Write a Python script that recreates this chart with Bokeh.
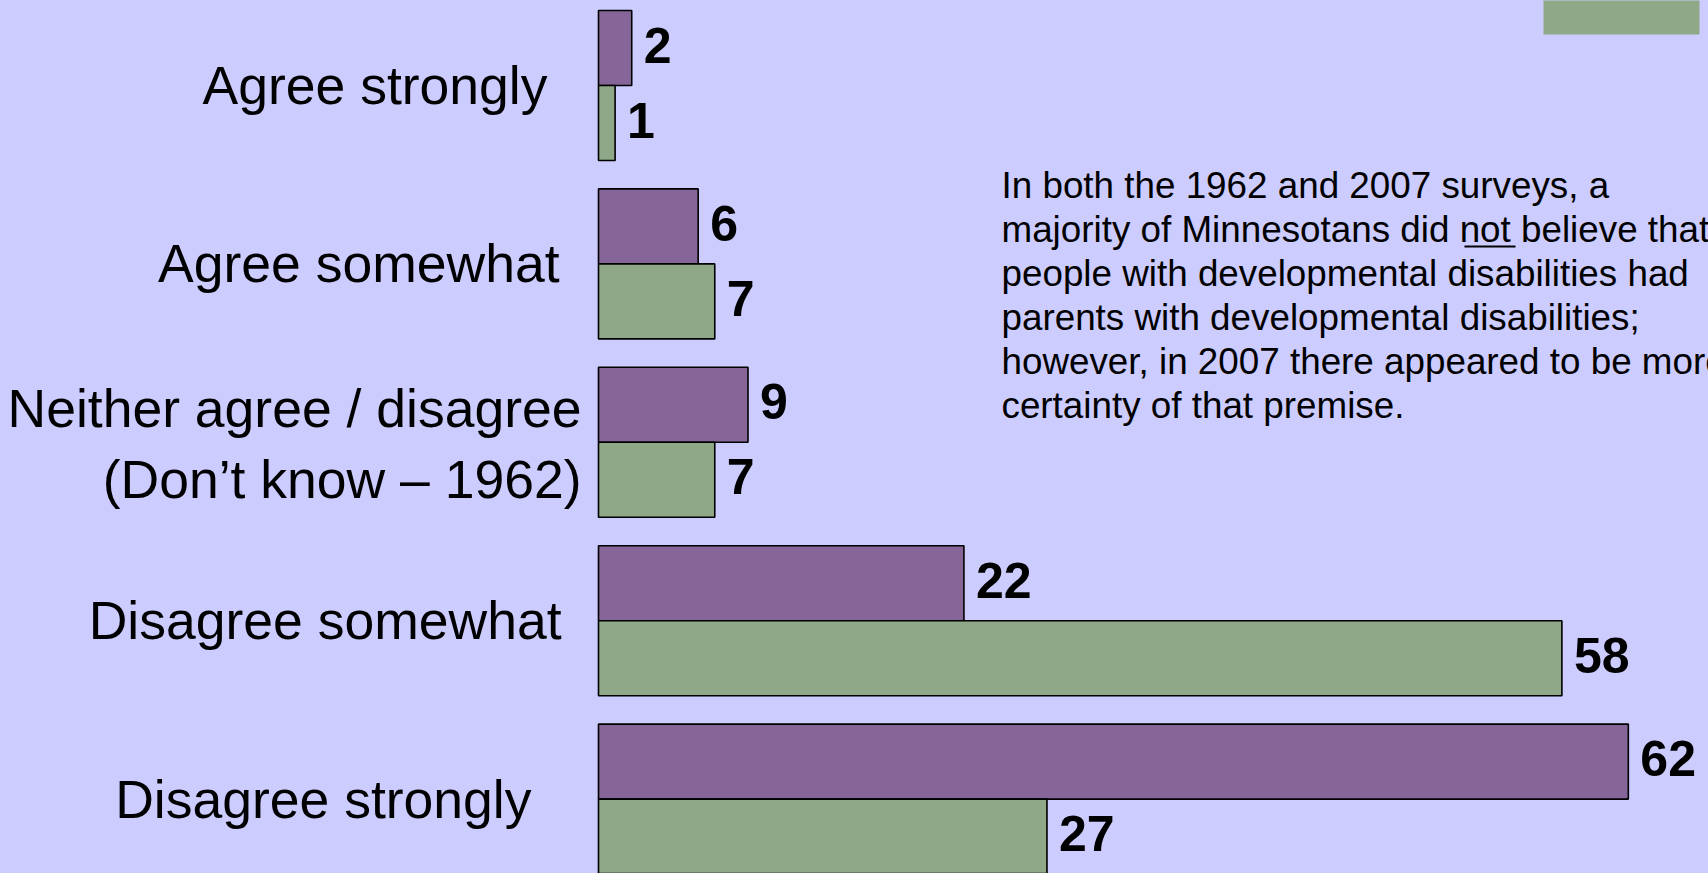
from bokeh.plotting import figure
from bokeh.models import Range1d, ColumnDataSource
from bokeh.embed import file_html
from bokeh.resources import INLINE
from bokeh.core.properties import value

# ---------------- data ----------------
categories = [
    "Agree strongly",
    "Agree somewhat",
    "Neither agree / disagree\n(Don\u2019t know \u2013 1962)",
    "Disagree somewhat",
    "Disagree strongly",
]
series_names = ["2007", "1962"]
values_2007 = [2, 6, 9, 22, 62]
values_1962 = [1, 7, 7, 58, 27]
note_lines = [
    "In both the 1962 and 2007 surveys, a",
    "majority of Minnesotans did not believe that",
    "people with developmental disabilities had",
    "parents with developmental disabilities;",
    "however, in 2007 there appeared to be more",
    "certainty of that premise.",
]

# ---------------- layout / style ----------------
W, H = 1708, 873
BG = "#CCCCFF"
PURPLE = "#866699"
GREEN = "#8FA887"
FONT = "Liberation Sans"

X0_PX = 598.0          # pixel position of value 0
PX_PER_UNIT = 16.61
GROUP0_PX = 85.0        # pixel centre of first category
GROUP_PITCH = 178.4
BAR_PX = 75.0
LABEL_RIGHT_PX = [547, 559, 581, 561, 531]
LABEL_LINE_PX = 71
LABEL_SHIFT_PX = 1.5


def px_x(px):
    return (px - X0_PX) / PX_PER_UNIT


def px_y(py):
    return (py - GROUP0_PX) / GROUP_PITCH


bar_h = BAR_PX / GROUP_PITCH

p = figure(
    width=W, height=H, output_backend="svg", toolbar_location=None,
    x_range=Range1d(px_x(0), px_x(W)), y_range=Range1d(px_y(H), px_y(0)),
    min_border=0, background_fill_color=BG, border_fill_color=BG,
)
p.axis.visible = False
p.grid.visible = False
p.outline_line_color = None

idx = list(range(len(categories)))

src07 = ColumnDataSource(dict(
    y=[i - bar_h / 2 for i in idx], right=values_2007,
    lab=[str(v) for v in values_2007]))
src62 = ColumnDataSource(dict(
    y=[i + bar_h / 2 for i in idx], right=values_1962,
    lab=[str(v) for v in values_1962]))

for src, col, name in [(src07, PURPLE, series_names[0]), (src62, GREEN, series_names[1])]:
    p.hbar(y="y", left=0, right="right", height=bar_h, source=src,
           fill_color=col, line_color="black", line_width=1.6, name=name)
    p.text(x="right", y="y", text="lab", source=src, x_offset=12, y_offset=-3,
           text_font=value(FONT), text_font_style="bold", text_font_size="50px",
           text_align="left", text_baseline="middle", text_color="black")

# category labels (multi-line split into separate rows)
lx, ly, lt, lo = [], [], [], []
for i, cat in enumerate(categories):
    parts = cat.split("\n")
    n = len(parts)
    for k, part in enumerate(parts):
        lx.append(px_x(LABEL_RIGHT_PX[i]))
        ly.append(i)
        lt.append(part)
        lo.append((k - (n - 1) / 2) * LABEL_LINE_PX + (LABEL_SHIFT_PX if n > 1 else 0))
lab_src = ColumnDataSource(dict(x=lx, y=ly, text=lt, yo=lo))
p.text(x="x", y="y", text="text", y_offset="yo", source=lab_src,
       text_font=value(FONT), text_font_size="53.5px", text_align="right",
       text_baseline="middle", text_color="black")

# legend swatch (partly outside the slide, top right)
p.quad(left=[px_x(1543)], right=[px_x(1699)], top=[px_y(-2)], bottom=[px_y(34)],
       fill_color=GREEN, line_color=None)

# explanatory note
NOTE_X_PX = 1001
NOTE_BASE_PX = 185
NOTE_LINE_PX = 44
note_src = ColumnDataSource(dict(
    x=[px_x(NOTE_X_PX)] * len(note_lines),
    y=[px_y(NOTE_BASE_PX + k * NOTE_LINE_PX) for k in range(len(note_lines))],
    text=note_lines))
p.text(x="x", y="y", text="text", source=note_src, text_font=value(FONT),
       text_font_size="36.8px", text_align="left", text_baseline="alphabetic",
       text_color="black")
# underline of the word "not"
p.segment(x0=[px_x(1464)], x1=[px_x(1515)], y0=[px_y(246)], y1=[px_y(246)],
          line_color="black", line_width=2)

html = file_html(p, INLINE, title="Survey chart")
html = html.replace(
    "<head>",
    "<head><style>html,body{margin:0;padding:0;overflow:hidden;background:#CCCCFF}</style>",
    1)
open("out.html", "w").write(html)
